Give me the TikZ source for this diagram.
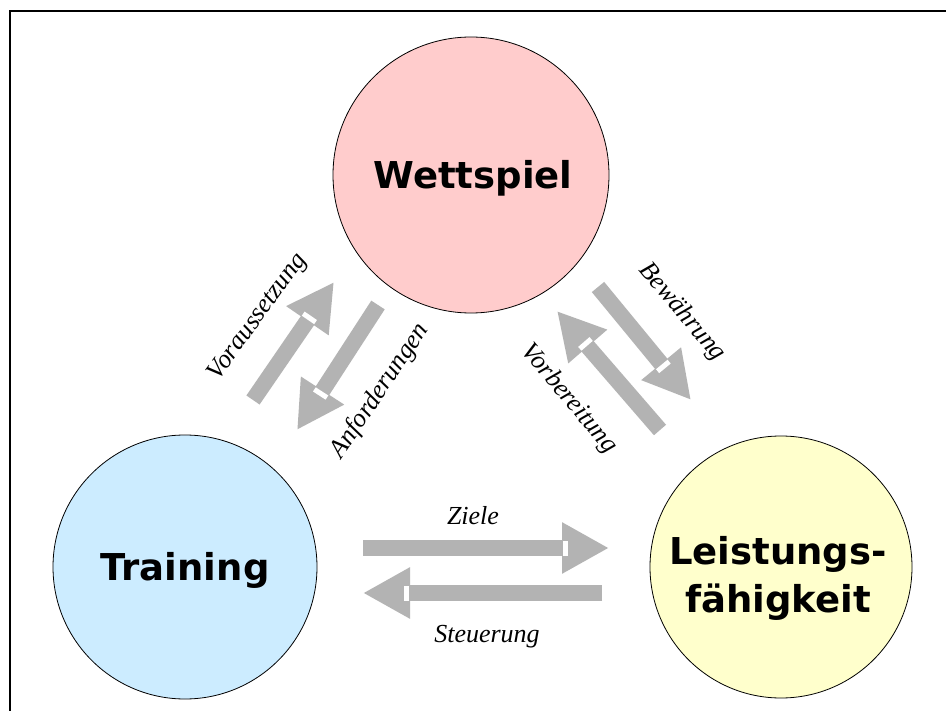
\documentclass[tikz,border=0pt]{standalone}
\usepackage{fontspec}
\setmainfont{Liberation Serif}
\newfontfamily\boldsans{DejaVu Sans}
\usetikzlibrary{arrows.meta,calc}
\definecolor{arrgrey}{HTML}{B3B3B3}
\definecolor{pinkfill}{HTML}{FFCCCC}
\definecolor{bluefill}{HTML}{CCECFF}
\definecolor{yellowfill}{HTML}{FFFFCC}
\tikzset{
  bubble/.style={circle, draw=black, line width=0.8pt, inner sep=0pt},
  bubbletext/.style={font=\boldsans\bfseries\fontsize{37}{48}\selectfont,
    align=center, inner sep=0pt},
  blockarrow/.style={draw=arrgrey, line width=16pt,
    -{Triangle[width=48pt,length=47pt]}},
  notch/.style={draw=white, line width=15pt},
  lbl/.style={font=\itshape\fontsize{26}{30}\selectfont, inner sep=0pt}
}
\newcommand{\blockarr}[2]{%
  \draw[blockarrow] (#1) -- (#2);
  \draw[notch] ($(#2)!41pt!(#1)$) -- ($(#2)!46pt!(#1)$);
}
\begin{document}
\begin{tikzpicture}[x=1pt,y=-1pt]
\useasboundingbox (0,0) rectangle (946,711);
\fill[white] (0,0) rectangle (946,711);
% frame
\draw[line width=2pt] (10,711) -- (10,11) -- (946,11);

% circles
\node[bubble, fill=pinkfill, minimum size=276pt] (wett) at (471,175) {};
\node[bubbletext] (wetttxt) at (473,178) {Wettspiel};
\node[bubble, fill=bluefill, minimum size=264pt] (train) at (185,567) {};
\node[bubbletext] (traintxt) at (185,570) {Training};
\node[bubble, fill=yellowfill, minimum size=262pt] (leist) at (781,567) {};
\node[bubbletext] (leisttxt) at (778,578) {Leistungs-\\fähigkeit};

% arrow end points
\coordinate (a1s) at (253,400); \coordinate (a1e) at (334,282);
\coordinate (a2s) at (378,305); \coordinate (a2e) at (297,430);
\coordinate (a3s) at (598,287); \coordinate (a3e) at (691,400);
\coordinate (a4s) at (660,430); \coordinate (a4e) at (557,311);
\coordinate (a5s) at (363,548); \coordinate (a5e) at (609,548);
\coordinate (a6s) at (602,593); \coordinate (a6e) at (363,593);

\blockarr{a1s}{a1e}
\blockarr{a2s}{a2e}
\blockarr{a3s}{a3e}
\blockarr{a4s}{a4e}
\blockarr{a5s}{a5e}
\blockarr{a6s}{a6e}

% labels
\node[lbl, rotate=54] (l1) at (258,317) {Voraussetzung};
\node[lbl, rotate=56] (l2) at (380,391) {Anforderungen};
\node[lbl, rotate=-50] (l3) at (682,312) {Bewährung};
\node[lbl, rotate=-50] (l4) at (569,399) {Vorbereitung};
\node[lbl] (l5) at (473,516) {Ziele};
\node[lbl] (l6) at (487,637) {Steuerung};
\end{tikzpicture}
\end{document}
